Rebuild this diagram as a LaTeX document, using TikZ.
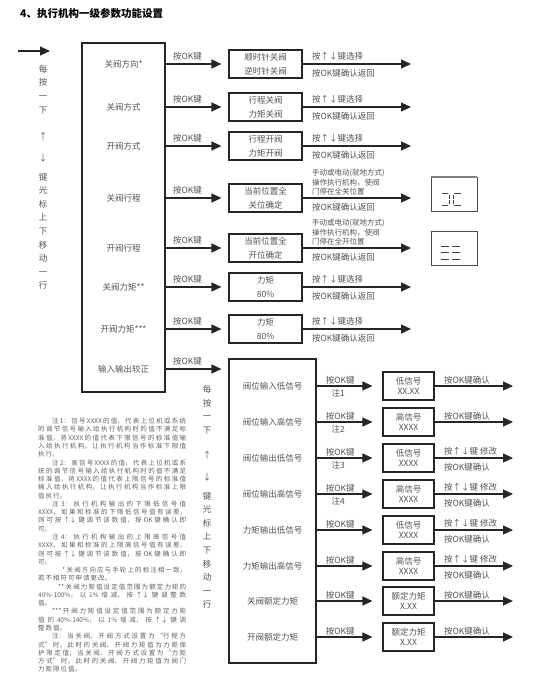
\documentclass[tikz,border=0pt]{standalone}
\usepackage{fontspec}
\setmainfont{Noto Sans CJK SC}
\definecolor{InkGray}{gray}{0.32}
\definecolor{LineGray}{gray}{0.15}
\usetikzlibrary{positioning,arrows.meta}
\XeTeXlinebreaklocale "zh"
\XeTeXlinebreakskip=1.4pt plus 3pt

\begin{document}
\begin{tikzpicture}[x=1pt, y=-1pt, font=\fontsize{8.5}{10}\selectfont,
    txt/.style={text=InkGray, inner sep=0pt},
    boxline/.style={draw=LineGray, line width=1.1pt, inner sep=0pt},
    selbox/.style={boxline, minimum width=73pt, minimum height=28pt, align=center, text=InkGray, font=\fontsize{8.5}{14}\selectfont},
    valbox/.style={boxline, minimum width=51pt, minimum height=28pt, align=center, text=InkGray, font=\fontsize{8.5}{10.5}\selectfont},
    flow/.style={-{Triangle[length=10pt,width=9pt]}, line width=1.2pt, draw=LineGray},
    vcol/.style={txt, align=center, anchor=north, font=\fontsize{8.5}{13.6}\selectfont},
    disp/.style={draw=black!70, line width=0.8pt, minimum width=46pt, minimum height=34pt},
    seg/.style={line width=1pt, draw=black!75},
    note/.style={txt, anchor=north west, text width=148pt, align=justify, text=black!62, font=\fontsize{6.5}{8.27}\selectfont}]
  \useasboundingbox (0,0) rectangle (547,686);

  \node[anchor=west, inner sep=0pt, font=\fontsize{10.5}{12}\selectfont\bfseries] (title) at (20,13) {4、执行机构一级参数功能设置};

  % first level menu
  \coordinate (entry) at (18,51);
  \coordinate (entryend) at (50,51);
  \draw[flow] (entry) -- (entryend);
  \node[vcol] (keysA) at (43,65) {每\\按\\一\\下\\[12.4pt]↑\\[8.4pt]↓\\[5.4pt]键\\光\\标\\上\\下\\移\\动\\一\\行};

  \node[boxline, minimum width=83pt, minimum height=349pt] (menuA) at (123.5,217.5) {};
  \node[txt] (a1) at (123.5,64) {关阀方向*};
  \node[txt] (a2) at (123.5,107) {关阀方式};
  \node[txt] (a3) at (123.5,146) {开阀方式};
  \node[txt] (a4) at (123.5,198) {关阀行程};
  \node[txt] (a5) at (123.5,248) {开阀行程};
  \node[txt] (a6) at (123.5,287) {关阀力矩**};
  \node[txt] (a7) at (123.5,329) {开阀力矩***};
  \node[txt] (a8) at (123.5,369) {输入输出较正};

  \node[selbox] (s1) at (265.5,64) {顺时针关阀\\逆时针关阀};
  \node[selbox] (s2) at (265.5,107) {行程关阀\\力矩关阀};
  \node[selbox] (s3) at (265.5,146) {行程开阀\\力矩开阀};
  \node[selbox] (s4) at (265.5,198) {当前位置全\\关位确定};
  \node[selbox] (s5) at (265.5,248) {当前位置全\\开位确定};
  \node[selbox] (s6) at (265.5,287) {力矩\\80\%};
  \node[selbox] (s7) at (265.5,329) {力矩\\80\%};

  \draw[flow, shorten >=7pt] (a1 -| menuA.east) -- (s1) node[txt, pos=.35, above=3pt] {按OK键};
  \draw[flow, shorten >=7pt] (a2 -| menuA.east) -- (s2) node[txt, pos=.35, above=3pt] {按OK键};
  \draw[flow, shorten >=7pt] (a3 -| menuA.east) -- (s3) node[txt, pos=.35, above=3pt] {按OK键};
  \draw[flow, shorten >=7pt] (a4 -| menuA.east) -- (s4) node[txt, pos=.35, above=3pt] {按OK键};
  \draw[flow, shorten >=7pt] (a5 -| menuA.east) -- (s5) node[txt, pos=.35, above=3pt] {按OK键};
  \draw[flow, shorten >=7pt] (a6 -| menuA.east) -- (s6) node[txt, pos=.35, above=3pt] {按OK键};
  \draw[flow, shorten >=7pt] (a7 -| menuA.east) -- (s7) node[txt, pos=.35, above=3pt] {按OK键};

  \coordinate (o1) at (411,64);
  \coordinate (o2) at (411,107);
  \coordinate (o3) at (411,146);
  \coordinate (o4) at (411,198);
  \coordinate (o5) at (411,248);
  \coordinate (o6) at (411,287);
  \coordinate (o7) at (411,329);
  \draw[flow] (s1) -- (o1)
    node[txt, pos=0, anchor=south west, xshift=9pt, yshift=3pt] {按↑↓键选择}
    node[txt, pos=0, anchor=north west, xshift=9pt, yshift=-4.5pt] {按OK键确认返回};
  \draw[flow] (s2) -- (o2)
    node[txt, pos=0, anchor=south west, xshift=9pt, yshift=3pt] {按↑↓键选择}
    node[txt, pos=0, anchor=north west, xshift=9pt, yshift=-4.5pt] {按OK键确认返回};
  \draw[flow] (s3) -- (o3)
    node[txt, pos=0, anchor=south west, xshift=9pt, yshift=3pt] {按↑↓键选择}
    node[txt, pos=0, anchor=north west, xshift=9pt, yshift=-4.5pt] {按OK键确认返回};
  \draw[flow] (s4) -- (o4)
    node[txt, pos=0, anchor=south west, xshift=9pt, yshift=2pt, align=left, font=\fontsize{7.5}{9.5}\selectfont] {手动或电动(就地方式)\\操作执行机构，使阀\\门停在全关位置}
    node[txt, pos=0, anchor=north west, xshift=9pt, yshift=-4.5pt] {按OK键确认返回};
  \draw[flow] (s5) -- (o5)
    node[txt, pos=0, anchor=south west, xshift=9pt, yshift=2pt, align=left, font=\fontsize{7.5}{9.5}\selectfont] {手动或电动(就地方式)\\操作执行机构，使阀\\门停在全开位置}
    node[txt, pos=0, anchor=north west, xshift=9pt, yshift=-4.5pt] {按OK键确认返回};
  \draw[flow] (s6) -- (o6)
    node[txt, pos=0, anchor=south west, xshift=9pt, yshift=3pt] {按↑↓键选择}
    node[txt, pos=0, anchor=north west, xshift=9pt, yshift=-4.5pt] {按OK键确认返回};
  \draw[flow] (s7) -- (o7)
    node[txt, pos=0, anchor=south west, xshift=9pt, yshift=3pt] {按↑↓键选择}
    node[txt, pos=0, anchor=north west, xshift=9pt, yshift=-4.5pt] {按OK键确认返回};

  % valve position displays
  \node[disp] (disp1) at (454,194) {};
  \draw[line width=2pt, black!50] (disp1.north west) -- (disp1.north east);
  \draw[seg] (442,193) -- (448,193);
  \draw[seg] (449,194.5) -- (449,198.5);
  \draw[seg] (449,200) -- (449,204);
  \draw[seg] (442,205.5) -- (448,205.5);
  \draw[seg] (454,193) -- (461,193);
  \draw[seg] (453,194.5) -- (453,198.5);
  \draw[seg] (453,200) -- (453,204);
  \draw[seg] (454,205.5) -- (461,205.5);
  \node[disp] (disp2) at (454,248.5) {};
  \draw[seg] (441,246) -- (449,246);
  \draw[seg] (441,252.5) -- (449,252.5);
  \draw[seg] (441,259) -- (449,259);
  \draw[seg] (452,246) -- (460,246);
  \draw[seg] (452,252.5) -- (460,252.5);
  \draw[seg] (452,259) -- (460,259);

  % calibration menu
  \node[boxline, minimum width=87pt, minimum height=304pt] (menuB) at (272.5,511) {};
  \draw[flow, shorten >=7pt] (a8 -| menuA.east) -- (a8 -| menuB.west) node[txt, pos=.35, above=3pt] {按OK键};
  \node[vcol] (keysB) at (207,385) {每\\按\\一\\下\\[11.4pt]↑\\[8.4pt]↓\\[5.4pt]键\\光\\标\\上\\下\\移\\动\\一\\行};

  \node[txt] (b1) at (272.5,386) {阀位输入低信号};
  \node[txt] (b2) at (272.5,422) {阀位输入高信号};
  \node[txt] (b3) at (272.5,458) {阀位输出低信号};
  \node[txt] (b4) at (272.5,494) {阀位输出高信号};
  \node[txt] (b5) at (272.5,530) {力矩输出低信号};
  \node[txt] (b6) at (272.5,566) {力矩输出高信号};
  \node[txt] (b7) at (272.5,601) {关阀额定力矩};
  \node[txt] (b8) at (272.5,637) {开阀额定力矩};

  \node[valbox] (v1) at (408.5,386) {低信号\\XX.XX};
  \node[valbox] (v2) at (408.5,422) {高信号\\XXXX};
  \node[valbox] (v3) at (408.5,458) {低信号\\XXXX};
  \node[valbox] (v4) at (408.5,494) {高信号\\XXXX};
  \node[valbox] (v5) at (408.5,530) {低信号\\XXXX};
  \node[valbox] (v6) at (408.5,566) {高信号\\XXXX};
  \node[valbox] (v7) at (408.5,601) {额定力矩\\X.XX};
  \node[valbox] (v8) at (408.5,637) {额定力矩\\X.XX};

  \draw[flow, shorten >=10pt] (b1 -| menuB.east) -- (v1) node[txt, pos=.36, above=1pt] {按OK键} node[txt, pos=.33, below=3pt] {注1};
  \draw[flow, shorten >=10pt] (b2 -| menuB.east) -- (v2) node[txt, pos=.36, above=1pt] {按OK键} node[txt, pos=.33, below=3pt] {注2};
  \draw[flow, shorten >=10pt] (b3 -| menuB.east) -- (v3) node[txt, pos=.36, above=1pt] {按OK键} node[txt, pos=.33, below=3pt] {注3};
  \draw[flow, shorten >=10pt] (b4 -| menuB.east) -- (v4) node[txt, pos=.36, above=1pt] {按OK键} node[txt, pos=.33, below=3pt] {注4};
  \draw[flow, shorten >=10pt] (b5 -| menuB.east) -- (v5) node[txt, pos=.36, above=1pt] {按OK键};
  \draw[flow, shorten >=10pt] (b6 -| menuB.east) -- (v6) node[txt, pos=.36, above=1pt] {按OK键};
  \draw[flow, shorten >=10pt] (b7 -| menuB.east) -- (v7) node[txt, pos=.36, above=1pt] {按OK键};
  \draw[flow, shorten >=10pt] (b8 -| menuB.east) -- (v8) node[txt, pos=.36, above=1pt] {按OK键};

  \coordinate (w1) at (513,386);
  \coordinate (w2) at (513,422);
  \coordinate (w3) at (513,458);
  \coordinate (w4) at (513,494);
  \coordinate (w5) at (513,530);
  \coordinate (w6) at (513,566);
  \coordinate (w7) at (513,601);
  \coordinate (w8) at (513,637);
  \draw[flow] (v1) -- (w1) node[txt, pos=0, anchor=south west, xshift=9pt, yshift=1.5pt] {按OK键确认};
  \draw[flow] (v2) -- (w2) node[txt, pos=0, anchor=south west, xshift=9pt, yshift=1.5pt] {按OK键确认};
  \draw[flow] (v3) -- (w3)
    node[txt, pos=0, anchor=south west, xshift=9pt, yshift=2pt] {按↑↓键 修改}
    node[txt, pos=0, anchor=north west, xshift=9pt, yshift=-4.5pt] {按OK键确认};
  \draw[flow] (v4) -- (w4)
    node[txt, pos=0, anchor=south west, xshift=9pt, yshift=2pt] {按↑↓键 修改}
    node[txt, pos=0, anchor=north west, xshift=9pt, yshift=-4.5pt] {按OK键确认};
  \draw[flow] (v5) -- (w5)
    node[txt, pos=0, anchor=south west, xshift=9pt, yshift=2pt] {按↑↓键 修改}
    node[txt, pos=0, anchor=north west, xshift=9pt, yshift=-4.5pt] {按OK键确认};
  \draw[flow] (v6) -- (w6)
    node[txt, pos=0, anchor=south west, xshift=9pt, yshift=2pt] {按↑↓键 修改}
    node[txt, pos=0, anchor=north west, xshift=9pt, yshift=-4.5pt] {按OK键确认};
  \draw[flow] (v7) -- (w7) node[txt, pos=0, anchor=south west, xshift=9pt, yshift=1.5pt] {按OK键确认};
  \draw[flow] (v8) -- (w8) node[txt, pos=0, anchor=south west, xshift=9pt, yshift=1.5pt] {按OK键确认};

  % notes
  \node[note] (notes) at (38,418) {\tolerance=10000 \XeTeXlinebreakskip=1pt plus 3pt\relax
    \hspace*{14pt}注1：信号XXXX的值，代表上位机或系统\linebreak
    的调节信号输入给执行机构时的值不满足标\linebreak
    准值，将XXXX的值代表下限信号的标准值输\linebreak
    入给执行机构，让执行机构当作标准下限值\linebreak
    执行。\par
    \hspace*{14pt}注2：高信号XXXX的值，代表上位机或系\linebreak
    统的调节信号输入给执行机构时的值不满足\linebreak
    标准值，将XXXX的值代表上限信号的标准值\linebreak
    输入给执行机构，让执行机构当作标准上限\linebreak
    值执行。\par
    \hspace*{14pt}注3：执行机构输出的下限低信号值\linebreak
    XXXX，如果和标准的下限低信号值有误差，\linebreak
    则可按↑↓键调节该数值，按OK键确认即\linebreak
    可。\par
    \hspace*{14pt}注4：执行机构输出的上限高信号值\linebreak
    XXXX，如果和标准的上限高信号值有误差，\linebreak
    则可按↑↓键调节该数值，按OK键确认即\linebreak
    可。\par
    \hspace*{24pt}* 关阀方向应与手轮上的标注相一致，\linebreak
    若不相符可申请更改。\par
    \hspace*{20pt}** 关阀力矩值设定值范围为额定力矩的\linebreak
    40\%-100\%，以1\%增减，按↑↓键调整数\linebreak
    值。\par
    \hspace*{14pt}*** 开阀力矩值设定值范围为额定力矩\linebreak
    值的40\%-140\%，以1\%增减，按↑↓键调\linebreak
    整数值。\par
    \hspace*{14pt}注：当关阀、开阀方式设置为“行程方\linebreak
    式”时，此时的关阀、开阀力矩值为力矩保\linebreak
    护限定值；当关阀、开阀方式设置为“力矩\linebreak
    方式”时，此时的关阀、开阀力矩值为阀门\linebreak
    力矩限位值。};
\end{tikzpicture}
\end{document}
